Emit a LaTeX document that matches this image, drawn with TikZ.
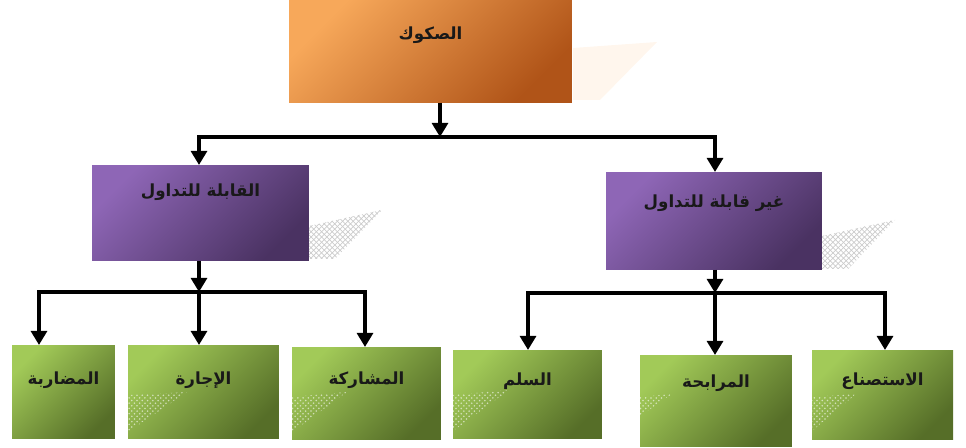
\documentclass[tikz,border=0pt]{standalone}
\usepackage{fontspec}
\newfontfamily\arabicfont[Script=Arabic]{DejaVu Sans}
\TeXXeTstate=1
\usetikzlibrary{arrows.meta,patterns}
\definecolor{oLight}{RGB}{247,168,90}
\definecolor{oDark}{RGB}{176,84,24}
\definecolor{pLight}{RGB}{142,102,182}
\definecolor{pDark}{RGB}{74,50,98}
\definecolor{gLight}{RGB}{162,202,88}
\definecolor{gDark}{RGB}{86,110,40}
\newcommand{\artext}[1]{\beginR #1\endR}

\begin{document}
\begin{tikzpicture}[x=0.02cm,y=-0.02cm,
    box/.style={anchor=north,inner ysep=0pt,text=black!90,
        font=\arabicfont\bfseries\fontsize{9.5}{11}\selectfont},
    orangebox/.style={box,top color=oLight,bottom color=oDark,shading angle=45},
    purplebox/.style={box,top color=pLight,bottom color=pDark,shading angle=45},
    greenbox/.style={box,top color=gLight,bottom color=gDark,shading angle=45},
    arr/.style={line width=2.3pt,-{Triangle[width=9pt,length=8pt]}},
    twoarr/.style={line width=2.3pt,{Triangle[width=9pt,length=8pt]}-{Triangle[width=9pt,length=8pt]}},
    hatch/.style={pattern=crosshatch,pattern color=gray!40},
    glint/.style={pattern=crosshatch dots,pattern color=white,opacity=0.6}]
    \useasboundingbox (0,0) rectangle (966,448);

    % shadows behind the boxes
    \fill[orange!7] (573,48) -- (657,42) -- (600,100) -- (573,100) -- cycle;
    \fill[hatch] (309,226) -- (382,210) -- (335,259) -- (309,259) -- cycle;
    \fill[hatch] (822,236) -- (895,220) -- (848,269) -- (822,269) -- cycle;

    % boxes
    \node[orangebox,minimum width=5.66cm,text height=0.78cm,text depth=1.26cm] (sukuk) at (430.5,0) {\artext{الصكوك}};
    \node[purplebox,minimum width=4.34cm,text height=0.62cm,text depth=1.28cm] (trad) at (200.5,165) {\artext{القابلة للتداول}};
    \node[purplebox,minimum width=4.32cm,text height=0.70cm,text depth=1.24cm] (ntrad) at (714,172) {\artext{غير قابلة للتداول}};

    \node[greenbox,minimum width=2.06cm,text height=0.78cm,text depth=1.08cm] (mudaraba) at (63.5,345) {\artext{المضاربة}};
    \node[greenbox,minimum width=3.02cm,text height=0.78cm,text depth=1.08cm] (ijara) at (203.5,345) {\artext{الإجارة}};
    \node[greenbox,minimum width=2.98cm,text height=0.74cm,text depth=1.10cm] (musharaka) at (366.5,347) {\artext{المشاركة}};
    \node[greenbox,minimum width=2.98cm,text height=0.70cm,text depth=1.06cm] (salam) at (527.5,350) {\artext{السلم}};
    \node[greenbox,minimum width=3.04cm,text height=0.64cm,text depth=1.18cm] (murabaha) at (716,355) {\artext{المرابحة}};
    \node[greenbox,minimum width=2.82cm,text height=0.70cm,text depth=1.08cm] (istisna) at (882.5,350) {\artext{الاستصناع}};

    % light glints on the green boxes
    \fill[glint] (128,395) -- (187,392) -- (128,432) -- cycle;
    \fill[glint] (292,397) -- (347,392) -- (292,432) -- cycle;
    \fill[glint] (453,395) -- (509,390) -- (453,431) -- cycle;
    \fill[glint] (640,397) -- (672,394) -- (640,416) -- cycle;
    \fill[glint] (812,397) -- (856,394) -- (812,431) -- cycle;

    % junctions
    \coordinate (top) at (440,137);
    \coordinate (topL) at (199,137);
    \coordinate (topR) at (715,137);
    \coordinate (left) at (199,292);
    \coordinate (leftA) at (39,292);
    \coordinate (leftB) at (365,292);
    \coordinate (right) at (715,293);
    \coordinate (rightA) at (528,293);
    \coordinate (rightB) at (885,293);

    % first level
    \draw[arr] (sukuk.south -| top) -- (top);
    \draw[twoarr] (topL |- trad.north) -- (topL) -- (topR) -- (topR |- ntrad.north);

    % second level, left
    \draw[arr] (trad.south -| left) -- (left);
    \draw[twoarr] (leftA |- mudaraba.north) -- (leftA) -- (leftB) -- (leftB |- musharaka.north);
    \draw[arr] (left) -- (left |- ijara.north);

    % second level, right
    \draw[arr] (ntrad.south -| right) -- (right);
    \draw[twoarr] (rightA |- salam.north) -- (rightA) -- (rightB) -- (rightB |- istisna.north);
    \draw[arr] (right) -- (right |- murabaha.north);
\end{tikzpicture}
\end{document}
